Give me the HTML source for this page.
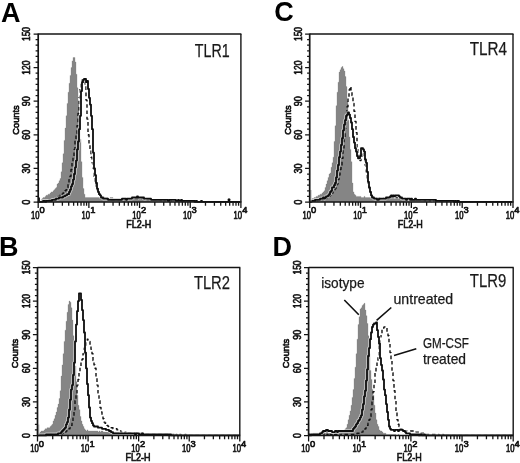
<!DOCTYPE html>
<html lang="en">
<head>
<meta charset="utf-8">
<title>TLR expression histograms</title>
<style>
html,body{margin:0;padding:0;background:#fff;}
body{width:520px;height:463px;overflow:hidden;}
svg{display:block;filter:grayscale(1) blur(0.3px);}
text{font-family:"Liberation Sans", Arial, Helvetica, sans-serif;fill:#111;}
.ax{font-size:10.4px;stroke:#111;stroke-width:0.65px;stroke-linejoin:round;}
.xl{font-size:10.3px;}
.sp{font-size:9.4px;}
.cn{font-size:9.4px;}
.ttl{font-size:18.6px;fill:#1a1a1a;stroke:#1a1a1a;stroke-width:0.25px;}
.ann{font-size:14.2px;fill:#1a1a1a;stroke:#1a1a1a;stroke-width:0.25px;}
.ltr{font-size:27px;font-weight:bold;fill:#000;}
</style>
</head>
<body>
<svg width="520" height="463" viewBox="0 0 520 463">
<rect width="520" height="463" fill="#fff"/>
<g id="panel-A">
<path d="M38.0 201.9H39.0V200.9H40.0V200.9H41.0V199.8H42.0V198.6H43.0V197.5H44.0V197.5H45.0V196.4H46.0V195.3H47.0V195.3H48.0V194.2H49.0V194.2H50.0V193.0H51.0V191.9H52.0V191.9H53.0V190.8H54.0V189.7H55.0V188.6H56.0V187.4H57.0V184.1H58.0V183.0H59.0V180.7H60.0V178.5H61.0V171.8H62.0V162.8H63.0V153.8H64.0V140.4H65.0V128.1H66.0V115.8H67.0V103.4H68.0V92.2H69.0V83.3H70.0V75.4H71.0V67.6H72.0V60.9H73.0V57.5H74.0V57.5H75.0V62.0H76.0V74.3H77.0V87.8H78.0V104.6H79.0V120.2H80.0V139.3H81.0V161.7H82.0V177.4H83.0V188.6H84.0V194.2H85.0V197.5H86.0V197.5H87.0V197.5H88.0V197.5H89.0V197.5H90.0V197.5H91.0V197.5H92.0V197.5H93.0V197.5H94.0V197.5H95.0V197.5H96.0V197.5H97.0V197.5H98.0V197.5H99.0V197.5H100.0V197.5H101.0V197.5H102.0V197.5H103.0V197.5H104.0V198.6H105.0V197.5H106.0V197.5H107.0V197.5H108.0V198.6H109.0V198.6H110.0V197.5H111.0V197.5H112.0V197.5H113.0V198.6H114.0V198.6H115.0V198.6H116.0V198.6H117.0V198.6H118.0V198.6H119.0V198.6H120.0V198.6H121.0V198.6H122.0V198.6H123.0V198.6H124.0V198.6H125.0V198.6H126.0V198.6H127.0V198.6H128.0V198.6H129.0V198.6H130.0V198.6H131.0V198.6H132.0V198.6H133.0V198.6H134.0V198.6H135.0V198.6H136.0V198.6H137.0V198.6H138.0V199.8H139.0V198.6H140.0V198.6H141.0V198.6H142.0V199.8H143.0V198.6H144.0V198.6H145.0V199.8H146.0V199.8H147.0V199.8H148.0V199.8H149.0V199.8H150.0V199.8H151.0V199.8H152.0V199.8H153.0V199.8H154.0V199.8H155.0V199.8H156.0V199.8H157.0V199.8H158.0V199.8H159.0V199.8H160.0V199.8H161.0V200.9H162.0V200.9H163.0V200.9H164.0V200.9H165.0V200.9H166.0V200.9H167.0V200.9H168.0V200.9H169.0V200.9H170.0V200.9H171.0V200.9H172.0V200.9H173.0V200.9H174.0V201.9H175.0V202.0H38.1Z" fill="#858585" stroke="#858585" stroke-width="0.3"/>
<path d="M38.0 201.9H39.0V201.9H40.0V201.9H41.0V201.9H42.0V200.9H43.0V200.9H44.0V200.9H45.0V200.9H46.0V200.9H47.0V200.9H48.0V200.9H49.0V199.8H50.0V199.8H51.0V199.8H52.0V198.6H53.0V198.6H54.0V198.6H55.0V198.6H56.0V197.5H57.0V197.5H58.0V196.4H59.0V196.4H60.0V195.3H61.0V195.3H62.0V194.2H63.0V193.0H64.0V191.9H65.0V190.8H66.0V189.7H67.0V187.4H68.0V184.1H69.0V179.6H70.0V176.2H71.0V169.5H72.0V162.8H73.0V157.2H74.0V149.4H75.0V140.4H76.0V133.7H77.0V125.8H78.0V113.5H79.0V97.8H80.0V88.9H81.0V83.3H82.0V79.9H83.0V79.9H84.0V82.2H85.0V86.6H86.0V100.1H87.0V119.1H88.0V134.8H89.0V144.9H90.0V149.4H91.0V157.2H92.0V162.8H93.0V168.4H94.0V176.2H95.0V181.8H96.0V186.3H97.0V189.7H98.0V193.0H99.0V194.2H100.0V195.3H101.0V197.5H102.0V197.5H103.0V197.5H104.0V198.6H105.0V198.6H106.0V198.6H107.0V199.8H108.0V199.8H109.0V199.8H110.0V199.8H111.0V199.8H112.0V199.8H113.0V199.8H114.0V199.8H115.0V199.8H116.0V199.8H117.0V199.8H118.0V199.8H119.0V199.8H120.0V199.8H121.0V199.8H122.0V199.8H123.0V199.8H124.0V199.8H125.0V199.8H126.0V199.8H127.0V199.8H128.0V198.6H129.0V198.6H130.0V198.6H131.0V198.6H132.0V198.6H133.0V198.6H134.0V198.6H135.0V198.6H136.0V198.6H137.0V198.6H138.0V198.6H139.0V198.6H140.0V198.6H141.0V198.6H142.0V198.6H143.0V198.6H144.0V199.8H145.0V199.8H146.0V199.8H147.0V199.8H148.0V199.8H149.0V199.8H150.0V199.8H151.0V199.8H152.0V199.8H153.0V199.8H154.0V199.8H155.0V199.8H156.0V199.8H157.0V199.8H158.0V199.8H159.0V199.8H160.0V199.8H161.0V200.9H162.0V199.8H163.0V199.8H164.0V199.8H165.0V200.9H166.0V200.9H167.0V200.9H168.0V200.9H169.0V200.9H170.0V200.9H171.0V200.9H172.0V200.9H173.0V200.9H174.0V200.9H175.0V200.9H176.0V200.9H177.0V200.9H178.0V200.9H179.0V200.9H180.0V200.9H181.0V200.9H182.0V200.9H183.0V200.9H184.0V200.9H185.0V200.9H186.0V200.9H187.0V200.9H188.0V200.9H189.0V200.9H190.0V201.9H191.0V201.9H192.0V200.9H193.0V200.9H194.0V201.9H195.0V201.9H196.0V201.9H197.0V201.9H198.0V201.9H199.0V201.9H200.0V201.9H201.0V201.9H202.0V201.9H203.0V201.9H204.0V201.9H205.0V201.9H206.0V201.9H207.0V201.9H208.0V201.9H209.0V201.9H210.0V201.9H211.0V201.9H212.0V201.9H213.0V201.9H214.0V201.9H215.0V201.9H216.0V201.9H217.0V201.9H218.0V201.9H219.0V201.9H220.0V201.9H221.0V201.9H222.0V201.9H223.0V201.9H224.0V201.9H225.0V201.9H226.0V201.9H227.0V201.9H228.0V201.9H229.0V201.9H230.0V201.9H231.0V201.9H232.0V201.9H233.0V201.9H234.0V201.9H235.0V201.9H236.0V201.9H237.0V201.9H238.0V201.9H239.0V201.9H240.0" fill="none" stroke="#111" stroke-width="1.4" stroke-dasharray="3.6 2.7" stroke-linejoin="round"/>
<path d="M38.0 201.9H39.0V201.9H40.0V201.9H41.0V201.9H42.0V201.9H43.0V200.9H44.0V200.9H45.0V201.9H46.0V200.9H47.0V200.9H48.0V200.9H49.0V200.9H50.0V200.9H51.0V200.9H52.0V199.8H53.0V199.8H54.0V199.8H55.0V199.8H56.0V198.6H57.0V198.6H58.0V198.6H59.0V197.5H60.0V197.5H61.0V197.5H62.0V197.5H63.0V196.4H64.0V196.4H65.0V195.3H66.0V195.3H67.0V194.2H68.0V194.2H69.0V191.9H70.0V189.7H71.0V186.3H72.0V184.1H73.0V179.6H74.0V174.0H75.0V167.3H76.0V160.6H77.0V149.4H78.0V141.5H79.0V129.2H80.0V115.8H81.0V91.1H82.0V82.2H83.0V79.9H84.0V78.8H85.0V78.8H86.0V82.2H87.0V81.0H88.0V88.9H89.0V97.8H90.0V104.6H91.0V115.8H92.0V129.2H93.0V152.7H94.0V168.4H95.0V175.1H96.0V183.0H97.0V188.6H98.0V191.9H99.0V194.2H100.0V195.3H101.0V197.5H102.0V197.5H103.0V198.6H104.0V198.6H105.0V198.6H106.0V198.6H107.0V198.6H108.0V199.8H109.0V199.8H110.0V199.8H111.0V199.8H112.0V199.8H113.0V199.8H114.0V199.8H115.0V199.8H116.0V199.8H117.0V199.8H118.0V199.8H119.0V199.8H120.0V199.8H121.0V199.8H122.0V198.6H123.0V198.6H124.0V198.6H125.0V198.6H126.0V199.8H127.0V198.6H128.0V198.6H129.0V198.6H130.0V198.6H131.0V198.6H132.0V197.5H133.0V197.5H134.0V197.5H135.0V197.5H136.0V197.5H137.0V196.4H138.0V197.5H139.0V197.5H140.0V197.5H141.0V197.5H142.0V197.5H143.0V197.5H144.0V198.6H145.0V198.6H146.0V198.6H147.0V198.6H148.0V198.6H149.0V198.6H150.0V198.6H151.0V199.8H152.0V199.8H153.0V199.8H154.0V199.8H155.0V199.8H156.0V199.8H157.0V199.8H158.0V199.8H159.0V199.8H160.0V199.8H161.0V199.8H162.0V199.8H163.0V199.8H164.0V199.8H165.0V199.8H166.0V199.8H167.0V199.8H168.0V200.9H169.0V199.8H170.0V199.8H171.0V199.8H172.0V199.8H173.0V199.8H174.0V199.8H175.0V199.8H176.0V200.9H177.0V200.9H178.0V199.8H179.0V200.9H180.0V200.9H181.0V199.8H182.0V200.9H183.0V200.9H184.0V200.9H185.0V200.9H186.0V200.9H187.0V200.9H188.0V200.9H189.0V200.9H190.0V200.9H191.0V200.9H192.0V200.9H193.0V200.9H194.0V200.9H195.0V201.9H196.0V200.9H197.0V201.9H198.0V201.9H199.0V201.9H200.0V201.9H201.0V200.9H202.0V201.9H203.0V201.9H204.0V201.9H205.0V201.9H206.0V201.9H207.0V201.9H208.0V201.9H209.0V201.9H210.0V201.9H211.0V201.9H212.0V201.9H213.0V201.9H214.0V201.9H215.0V201.9H216.0V201.9H217.0V201.9H218.0V201.9H219.0V201.9H220.0V201.9H221.0V201.9H222.0V201.9H223.0V201.9H224.0V201.9H225.0V201.9H226.0V201.9H227.0V201.9H228.0V201.9H229.0V201.9H230.0V201.9H231.0V201.9H232.0V201.9H233.0V201.9H234.0V201.9H235.0V201.9H236.0V201.9H237.0V201.9H238.0V201.9H239.0V201.9H240.0" fill="none" stroke="#fff" stroke-opacity="0.55" stroke-width="3.6" stroke-linejoin="round"/>
<path d="M38.0 201.9H39.0V201.9H40.0V201.9H41.0V201.9H42.0V201.9H43.0V200.9H44.0V200.9H45.0V201.9H46.0V200.9H47.0V200.9H48.0V200.9H49.0V200.9H50.0V200.9H51.0V200.9H52.0V199.8H53.0V199.8H54.0V199.8H55.0V199.8H56.0V198.6H57.0V198.6H58.0V198.6H59.0V197.5H60.0V197.5H61.0V197.5H62.0V197.5H63.0V196.4H64.0V196.4H65.0V195.3H66.0V195.3H67.0V194.2H68.0V194.2H69.0V191.9H70.0V189.7H71.0V186.3H72.0V184.1H73.0V179.6H74.0V174.0H75.0V167.3H76.0V160.6H77.0V149.4H78.0V141.5H79.0V129.2H80.0V115.8H81.0V91.1H82.0V82.2H83.0V79.9H84.0V78.8H85.0V78.8H86.0V82.2H87.0V81.0H88.0V88.9H89.0V97.8H90.0V104.6H91.0V115.8H92.0V129.2H93.0V152.7H94.0V168.4H95.0V175.1H96.0V183.0H97.0V188.6H98.0V191.9H99.0V194.2H100.0V195.3H101.0V197.5H102.0V197.5H103.0V198.6H104.0V198.6H105.0V198.6H106.0V198.6H107.0V198.6H108.0V199.8H109.0V199.8H110.0V199.8H111.0V199.8H112.0V199.8H113.0V199.8H114.0V199.8H115.0V199.8H116.0V199.8H117.0V199.8H118.0V199.8H119.0V199.8H120.0V199.8H121.0V199.8H122.0V198.6H123.0V198.6H124.0V198.6H125.0V198.6H126.0V199.8H127.0V198.6H128.0V198.6H129.0V198.6H130.0V198.6H131.0V198.6H132.0V197.5H133.0V197.5H134.0V197.5H135.0V197.5H136.0V197.5H137.0V196.4H138.0V197.5H139.0V197.5H140.0V197.5H141.0V197.5H142.0V197.5H143.0V197.5H144.0V198.6H145.0V198.6H146.0V198.6H147.0V198.6H148.0V198.6H149.0V198.6H150.0V198.6H151.0V199.8H152.0V199.8H153.0V199.8H154.0V199.8H155.0V199.8H156.0V199.8H157.0V199.8H158.0V199.8H159.0V199.8H160.0V199.8H161.0V199.8H162.0V199.8H163.0V199.8H164.0V199.8H165.0V199.8H166.0V199.8H167.0V199.8H168.0V200.9H169.0V199.8H170.0V199.8H171.0V199.8H172.0V199.8H173.0V199.8H174.0V199.8H175.0V199.8H176.0V200.9H177.0V200.9H178.0V199.8H179.0V200.9H180.0V200.9H181.0V199.8H182.0V200.9H183.0V200.9H184.0V200.9H185.0V200.9H186.0V200.9H187.0V200.9H188.0V200.9H189.0V200.9H190.0V200.9H191.0V200.9H192.0V200.9H193.0V200.9H194.0V200.9H195.0V201.9H196.0V200.9H197.0V201.9H198.0V201.9H199.0V201.9H200.0V201.9H201.0V200.9H202.0V201.9H203.0V201.9H204.0V201.9H205.0V201.9H206.0V201.9H207.0V201.9H208.0V201.9H209.0V201.9H210.0V201.9H211.0V201.9H212.0V201.9H213.0V201.9H214.0V201.9H215.0V201.9H216.0V201.9H217.0V201.9H218.0V201.9H219.0V201.9H220.0V201.9H221.0V201.9H222.0V201.9H223.0V201.9H224.0V201.9H225.0V201.9H226.0V201.9H227.0V201.9H228.0V201.9H229.0V201.9H230.0V201.9H231.0V201.9H232.0V201.9H233.0V201.9H234.0V201.9H235.0V201.9H236.0V201.9H237.0V201.9H238.0V201.9H239.0V201.9H240.0" fill="none" stroke="#0d0d0d" stroke-width="1.8" stroke-linejoin="round"/>
<rect x="38.9" y="197.5" width="1.1" height="4.5" fill="#222"/>
<circle cx="229.0" cy="199.8" r="1.5" fill="#0d0d0d"/>
<path d="M38.2 34.0H241.4" fill="none" stroke="#141414" stroke-width="1.7"/>
<path d="M240.9 34.0V202.0" fill="none" stroke="#141414" stroke-width="1.4"/>
<path d="M38.2 33.5V202.6" fill="none" stroke="#141414" stroke-width="1.7"/>
<path d="M37.7 202.0H241.4" fill="none" stroke="#141414" stroke-width="1.6"/>
<path d="M38.2 202.00h-4.6M38.2 196.40h-2.6M38.2 190.80h-2.6M38.2 185.20h-2.6M38.2 179.60h-2.6M38.2 174.00h-2.6M38.2 168.40h-4.6M38.2 162.80h-2.6M38.2 157.20h-2.6M38.2 151.60h-2.6M38.2 146.00h-2.6M38.2 140.40h-2.6M38.2 134.80h-4.6M38.2 129.20h-2.6M38.2 123.60h-2.6M38.2 118.00h-2.6M38.2 112.40h-2.6M38.2 106.80h-2.6M38.2 101.20h-4.6M38.2 95.60h-2.6M38.2 90.00h-2.6M38.2 84.40h-2.6M38.2 78.80h-2.6M38.2 73.20h-2.6M38.2 67.60h-4.6M38.2 62.00h-2.6M38.2 56.40h-2.6M38.2 50.80h-2.6M38.2 45.20h-2.6M38.2 39.60h-2.6M38.2 34.00h-4.6" fill="none" stroke="#141414" stroke-width="1.25"/>
<path d="M38.20 202.0v5.9M53.45 202.0v3.7M62.38 202.0v3.7M68.71 202.0v3.7M73.62 202.0v3.7M77.63 202.0v3.7M81.03 202.0v3.7M83.96 202.0v3.7M86.56 202.0v3.7M88.88 202.0v5.9M104.13 202.0v3.7M113.05 202.0v3.7M119.38 202.0v3.7M124.30 202.0v3.7M128.31 202.0v3.7M131.70 202.0v3.7M134.64 202.0v3.7M137.23 202.0v3.7M139.55 202.0v5.9M154.80 202.0v3.7M163.73 202.0v3.7M170.06 202.0v3.7M174.97 202.0v3.7M178.98 202.0v3.7M182.38 202.0v3.7M185.31 202.0v3.7M187.91 202.0v3.7M190.22 202.0v5.9M205.48 202.0v3.7M214.40 202.0v3.7M220.73 202.0v3.7M225.65 202.0v3.7M229.66 202.0v3.7M233.05 202.0v3.7M235.99 202.0v3.7M238.58 202.0v3.7M240.90 202.0v5.9" fill="none" stroke="#141414" stroke-width="1.3"/>
<text class="ax" transform="translate(30.2 34.0) rotate(-90)" text-anchor="middle" textLength="14.2" lengthAdjust="spacingAndGlyphs">150</text>
<text class="ax" transform="translate(30.2 67.6) rotate(-90)" text-anchor="middle" textLength="14.2" lengthAdjust="spacingAndGlyphs">120</text>
<text class="ax" transform="translate(30.2 101.2) rotate(-90)" text-anchor="middle" textLength="10.0" lengthAdjust="spacingAndGlyphs">90</text>
<text class="ax" transform="translate(30.2 134.8) rotate(-90)" text-anchor="middle" textLength="10.0" lengthAdjust="spacingAndGlyphs">60</text>
<text class="ax" transform="translate(30.2 168.4) rotate(-90)" text-anchor="middle" textLength="10.0" lengthAdjust="spacingAndGlyphs">30</text>
<text class="ax" transform="translate(30.2 202.0) rotate(-90)" text-anchor="middle" textLength="4.8" lengthAdjust="spacingAndGlyphs">0</text>
<text class="ax cn" transform="translate(19.0 120.0) rotate(-90)" text-anchor="middle" textLength="29.5" lengthAdjust="spacingAndGlyphs">Counts</text>
<text class="ax xl" x="30.9" y="218.8" textLength="8.5" lengthAdjust="spacingAndGlyphs">10</text>
<text class="ax sp" x="39.5" y="213.0">0</text>
<text class="ax xl" x="81.6" y="218.8" textLength="8.5" lengthAdjust="spacingAndGlyphs">10</text>
<text class="ax sp" x="90.2" y="213.0">1</text>
<text class="ax xl" x="132.2" y="218.8" textLength="8.5" lengthAdjust="spacingAndGlyphs">10</text>
<text class="ax sp" x="140.9" y="213.0">2</text>
<text class="ax xl" x="182.9" y="218.8" textLength="8.5" lengthAdjust="spacingAndGlyphs">10</text>
<text class="ax sp" x="191.5" y="213.0">3</text>
<text class="ax xl" x="233.6" y="218.8" textLength="8.5" lengthAdjust="spacingAndGlyphs">10</text>
<text class="ax sp" x="242.2" y="213.0">4</text>
<text class="ax xl" x="138.8" y="227.7" text-anchor="middle" textLength="25.0" lengthAdjust="spacingAndGlyphs">FL2-H</text>
<text class="ttl" x="194.8" y="56.6" textLength="34.8" lengthAdjust="spacingAndGlyphs">TLR1</text>
<text class="ltr" x="1.0" y="21.5">A</text>
</g>
<g id="panel-B">
<path d="M37.0 435.4H38.0V434.4H39.0V433.3H40.0V432.1H41.0V431.0H42.0V431.0H43.0V431.0H44.0V429.9H45.0V428.8H46.0V428.8H47.0V427.7H48.0V427.7H49.0V427.7H50.0V426.5H51.0V425.4H52.0V424.3H53.0V420.9H54.0V418.7H55.0V415.3H56.0V412.0H57.0V407.5H58.0V404.1H59.0V398.5H60.0V390.7H61.0V376.1H62.0V364.9H63.0V353.7H64.0V341.4H65.0V330.2H66.0V321.3H67.0V312.3H68.0V304.5H69.0V301.1H70.0V302.2H71.0V307.8H72.0V320.1H73.0V335.8H74.0V349.3H75.0V366.1H76.0V381.7H77.0V395.2H78.0V405.3H79.0V409.7H80.0V416.5H81.0V420.9H82.0V424.3H83.0V426.5H84.0V428.8H85.0V429.9H86.0V431.0H87.0V429.9H88.0V431.0H89.0V431.0H90.0V431.0H91.0V431.0H92.0V431.0H93.0V431.0H94.0V431.0H95.0V431.0H96.0V431.0H97.0V431.0H98.0V432.1H99.0V431.0H100.0V432.1H101.0V431.0H102.0V431.0H103.0V432.1H104.0V432.1H105.0V432.1H106.0V432.1H107.0V432.1H108.0V432.1H109.0V432.1H110.0V432.1H111.0V432.1H112.0V432.1H113.0V432.1H114.0V432.1H115.0V432.1H116.0V432.1H117.0V432.1H118.0V432.1H119.0V433.3H120.0V433.3H121.0V433.3H122.0V433.3H123.0V433.3H124.0V433.3H125.0V433.3H126.0V433.3H127.0V433.3H128.0V433.3H129.0V433.3H130.0V433.3H131.0V433.3H132.0V433.3H133.0V433.3H134.0V433.3H135.0V433.3H136.0V433.3H137.0V434.4H138.0V434.4H139.0V433.3H140.0V434.4H141.0V434.4H142.0V434.4H143.0V434.4H144.0V434.4H145.0V434.4H146.0V434.4H147.0V434.4H148.0V434.4H149.0V434.4H150.0V434.4H151.0V434.4H152.0V434.4H153.0V434.4H154.0V434.4H155.0V434.4H156.0V434.4H157.0V434.4H158.0V434.4H159.0V435.4H160.0V434.4H161.0V435.4H162.0V435.5H37.1Z" fill="#858585" stroke="#858585" stroke-width="0.3"/>
<path d="M37.0 435.4H38.0V435.4H39.0V435.4H40.0V435.4H41.0V435.4H42.0V435.4H43.0V435.4H44.0V435.4H45.0V435.4H46.0V435.4H47.0V435.4H48.0V435.4H49.0V435.4H50.0V434.4H51.0V434.4H52.0V434.4H53.0V434.4H54.0V434.4H55.0V434.4H56.0V434.4H57.0V434.4H58.0V434.4H59.0V434.4H60.0V434.4H61.0V434.4H62.0V433.3H63.0V433.3H64.0V433.3H65.0V432.1H66.0V431.0H67.0V429.9H68.0V429.9H69.0V428.8H70.0V427.7H71.0V425.4H72.0V422.1H73.0V416.5H74.0V409.7H75.0V400.8H76.0V392.9H77.0V385.1H78.0V379.5H79.0V372.8H80.0V367.2H81.0V361.6H82.0V359.3H83.0V353.7H84.0V348.1H85.0V345.9H86.0V341.4H87.0V339.2H88.0V340.3H89.0V341.4H90.0V344.8H91.0V349.3H92.0V353.7H93.0V360.5H94.0V364.9H95.0V368.3H96.0V376.1H97.0V385.1H98.0V392.9H99.0V400.8H100.0V407.5H101.0V412.0H102.0V415.3H103.0V418.7H104.0V422.1H105.0V423.2H106.0V424.3H107.0V425.4H108.0V426.5H109.0V427.7H110.0V427.7H111.0V427.7H112.0V427.7H113.0V428.8H114.0V428.8H115.0V428.8H116.0V428.8H117.0V429.9H118.0V429.9H119.0V431.0H120.0V431.0H121.0V432.1H122.0V432.1H123.0V432.1H124.0V433.3H125.0V432.1H126.0V433.3H127.0V433.3H128.0V433.3H129.0V433.3H130.0V433.3H131.0V433.3H132.0V433.3H133.0V433.3H134.0V433.3H135.0V433.3H136.0V433.3H137.0V433.3H138.0V433.3H139.0V433.3H140.0V433.3H141.0V433.3H142.0V433.3H143.0V434.4H144.0V434.4H145.0V434.4H146.0V434.4H147.0V434.4H148.0V434.4H149.0V434.4H150.0V434.4H151.0V434.4H152.0V434.4H153.0V434.4H154.0V434.4H155.0V434.4H156.0V434.4H157.0V434.4H158.0V434.4H159.0V434.4H160.0V434.4H161.0V434.4H162.0V434.4H163.0V434.4H164.0V434.4H165.0V434.4H166.0V434.4H167.0V434.4H168.0V434.4H169.0V434.4H170.0V434.4H171.0V434.4H172.0V434.4H173.0V434.4H174.0V434.4H175.0V435.4H176.0V434.4H177.0V435.4H178.0V434.4H179.0V434.4H180.0V434.4H181.0V435.4H182.0V435.4H183.0V435.4H184.0V435.4H185.0V434.4H186.0V435.4H187.0V435.4H188.0V435.4H189.0V435.4H190.0V435.4H191.0V435.4H192.0V435.4H193.0V435.4H194.0V435.4H195.0V435.4H196.0V435.4H197.0V435.4H198.0V435.4H199.0V435.4H200.0V435.4H201.0V435.4H202.0V435.4H203.0V435.4H204.0V435.4H205.0V435.4H206.0V435.4H207.0V435.4H208.0V435.4H209.0V435.4H210.0V435.4H211.0V435.4H212.0V435.4H213.0V435.4H214.0V435.4H215.0V435.4H216.0V435.4H217.0V435.4H218.0V435.4H219.0V435.4H220.0V435.4H221.0V435.4H222.0V435.4H223.0V435.4H224.0V435.4H225.0V435.4H226.0V435.4H227.0V435.4H228.0V435.4H229.0V435.4H230.0V435.4H231.0V435.4H232.0V435.4H233.0V435.4H234.0V435.4H235.0V435.4H236.0V435.4H237.0V435.4H238.0V435.4H239.0V435.4H240.0" fill="none" stroke="#111" stroke-width="1.4" stroke-dasharray="3.6 2.7" stroke-linejoin="round"/>
<path d="M37.0 435.4H38.0V435.4H39.0V435.4H40.0V435.4H41.0V435.4H42.0V435.4H43.0V435.4H44.0V435.4H45.0V435.4H46.0V434.4H47.0V434.4H48.0V434.4H49.0V434.4H50.0V434.4H51.0V434.4H52.0V434.4H53.0V434.4H54.0V434.4H55.0V434.4H56.0V434.4H57.0V434.4H58.0V433.3H59.0V433.3H60.0V433.3H61.0V432.1H62.0V431.0H63.0V429.9H64.0V428.8H65.0V427.7H66.0V424.3H67.0V422.1H68.0V417.6H69.0V409.7H70.0V399.7H71.0V389.6H72.0V385.1H73.0V375.0H74.0V362.7H75.0V341.4H76.0V324.6H77.0V311.2H78.0V301.1H79.0V293.3H80.0V293.3H81.0V300.0H82.0V310.1H83.0V320.1H84.0V332.5H85.0V352.6H86.0V368.3H87.0V384.0H88.0V395.2H89.0V407.5H90.0V417.6H91.0V420.9H92.0V423.2H93.0V425.4H94.0V426.5H95.0V426.5H96.0V426.5H97.0V426.5H98.0V427.7H99.0V427.7H100.0V427.7H101.0V427.7H102.0V428.8H103.0V428.8H104.0V428.8H105.0V428.8H106.0V429.9H107.0V429.9H108.0V429.9H109.0V431.0H110.0V431.0H111.0V432.1H112.0V432.1H113.0V433.3H114.0V433.3H115.0V433.3H116.0V433.3H117.0V433.3H118.0V433.3H119.0V433.3H120.0V433.3H121.0V433.3H122.0V433.3H123.0V433.3H124.0V433.3H125.0V433.3H126.0V433.3H127.0V433.3H128.0V433.3H129.0V433.3H130.0V433.3H131.0V433.3H132.0V433.3H133.0V433.3H134.0V433.3H135.0V434.4H136.0V433.3H137.0V433.3H138.0V433.3H139.0V434.4H140.0V434.4H141.0V434.4H142.0V433.3H143.0V434.4H144.0V434.4H145.0V434.4H146.0V434.4H147.0V434.4H148.0V434.4H149.0V434.4H150.0V434.4H151.0V434.4H152.0V434.4H153.0V434.4H154.0V434.4H155.0V434.4H156.0V434.4H157.0V434.4H158.0V434.4H159.0V434.4H160.0V434.4H161.0V434.4H162.0V434.4H163.0V434.4H164.0V434.4H165.0V434.4H166.0V434.4H167.0V434.4H168.0V434.4H169.0V434.4H170.0V434.4H171.0V435.4H172.0V435.4H173.0V435.4H174.0V435.4H175.0V435.4H176.0V435.4H177.0V435.4H178.0V435.4H179.0V435.4H180.0V435.4H181.0V435.4H182.0V435.4H183.0V435.4H184.0V435.4H185.0V435.4H186.0V435.4H187.0V435.4H188.0V435.4H189.0V435.4H190.0V435.4H191.0V435.4H192.0V435.4H193.0V435.4H194.0V435.4H195.0V435.4H196.0V435.4H197.0V435.4H198.0V435.4H199.0V435.4H200.0V435.4H201.0V435.4H202.0V435.4H203.0V435.4H204.0V435.4H205.0V435.4H206.0V435.4H207.0V435.4H208.0V435.4H209.0V435.4H210.0V435.4H211.0V435.4H212.0V435.4H213.0V435.4H214.0V435.4H215.0V435.4H216.0V435.4H217.0V435.4H218.0V435.4H219.0V435.4H220.0V435.4H221.0V435.4H222.0V435.4H223.0V435.4H224.0V435.4H225.0V435.4H226.0V435.4H227.0V435.4H228.0V435.4H229.0V435.4H230.0V435.4H231.0V435.4H232.0V435.4H233.0V435.4H234.0V435.4H235.0V435.4H236.0V435.4H237.0V435.4H238.0V435.4H239.0V435.4H240.0" fill="none" stroke="#fff" stroke-opacity="0.55" stroke-width="3.6" stroke-linejoin="round"/>
<path d="M37.0 435.4H38.0V435.4H39.0V435.4H40.0V435.4H41.0V435.4H42.0V435.4H43.0V435.4H44.0V435.4H45.0V435.4H46.0V434.4H47.0V434.4H48.0V434.4H49.0V434.4H50.0V434.4H51.0V434.4H52.0V434.4H53.0V434.4H54.0V434.4H55.0V434.4H56.0V434.4H57.0V434.4H58.0V433.3H59.0V433.3H60.0V433.3H61.0V432.1H62.0V431.0H63.0V429.9H64.0V428.8H65.0V427.7H66.0V424.3H67.0V422.1H68.0V417.6H69.0V409.7H70.0V399.7H71.0V389.6H72.0V385.1H73.0V375.0H74.0V362.7H75.0V341.4H76.0V324.6H77.0V311.2H78.0V301.1H79.0V293.3H80.0V293.3H81.0V300.0H82.0V310.1H83.0V320.1H84.0V332.5H85.0V352.6H86.0V368.3H87.0V384.0H88.0V395.2H89.0V407.5H90.0V417.6H91.0V420.9H92.0V423.2H93.0V425.4H94.0V426.5H95.0V426.5H96.0V426.5H97.0V426.5H98.0V427.7H99.0V427.7H100.0V427.7H101.0V427.7H102.0V428.8H103.0V428.8H104.0V428.8H105.0V428.8H106.0V429.9H107.0V429.9H108.0V429.9H109.0V431.0H110.0V431.0H111.0V432.1H112.0V432.1H113.0V433.3H114.0V433.3H115.0V433.3H116.0V433.3H117.0V433.3H118.0V433.3H119.0V433.3H120.0V433.3H121.0V433.3H122.0V433.3H123.0V433.3H124.0V433.3H125.0V433.3H126.0V433.3H127.0V433.3H128.0V433.3H129.0V433.3H130.0V433.3H131.0V433.3H132.0V433.3H133.0V433.3H134.0V433.3H135.0V434.4H136.0V433.3H137.0V433.3H138.0V433.3H139.0V434.4H140.0V434.4H141.0V434.4H142.0V433.3H143.0V434.4H144.0V434.4H145.0V434.4H146.0V434.4H147.0V434.4H148.0V434.4H149.0V434.4H150.0V434.4H151.0V434.4H152.0V434.4H153.0V434.4H154.0V434.4H155.0V434.4H156.0V434.4H157.0V434.4H158.0V434.4H159.0V434.4H160.0V434.4H161.0V434.4H162.0V434.4H163.0V434.4H164.0V434.4H165.0V434.4H166.0V434.4H167.0V434.4H168.0V434.4H169.0V434.4H170.0V434.4H171.0V435.4H172.0V435.4H173.0V435.4H174.0V435.4H175.0V435.4H176.0V435.4H177.0V435.4H178.0V435.4H179.0V435.4H180.0V435.4H181.0V435.4H182.0V435.4H183.0V435.4H184.0V435.4H185.0V435.4H186.0V435.4H187.0V435.4H188.0V435.4H189.0V435.4H190.0V435.4H191.0V435.4H192.0V435.4H193.0V435.4H194.0V435.4H195.0V435.4H196.0V435.4H197.0V435.4H198.0V435.4H199.0V435.4H200.0V435.4H201.0V435.4H202.0V435.4H203.0V435.4H204.0V435.4H205.0V435.4H206.0V435.4H207.0V435.4H208.0V435.4H209.0V435.4H210.0V435.4H211.0V435.4H212.0V435.4H213.0V435.4H214.0V435.4H215.0V435.4H216.0V435.4H217.0V435.4H218.0V435.4H219.0V435.4H220.0V435.4H221.0V435.4H222.0V435.4H223.0V435.4H224.0V435.4H225.0V435.4H226.0V435.4H227.0V435.4H228.0V435.4H229.0V435.4H230.0V435.4H231.0V435.4H232.0V435.4H233.0V435.4H234.0V435.4H235.0V435.4H236.0V435.4H237.0V435.4H238.0V435.4H239.0V435.4H240.0" fill="none" stroke="#0d0d0d" stroke-width="1.8" stroke-linejoin="round"/>
<rect x="38.2" y="424.5" width="1.1" height="11.0" fill="#b4b4b4"/>
<path d="M37.5 267.5H240.3" fill="none" stroke="#141414" stroke-width="1.7"/>
<path d="M239.8 267.5V435.5" fill="none" stroke="#141414" stroke-width="1.4"/>
<path d="M37.5 267.0V436.1" fill="none" stroke="#141414" stroke-width="1.7"/>
<path d="M37.0 435.5H240.3" fill="none" stroke="#141414" stroke-width="1.6"/>
<path d="M37.5 435.50h-4.6M37.5 429.90h-2.6M37.5 424.30h-2.6M37.5 418.70h-2.6M37.5 413.10h-2.6M37.5 407.50h-2.6M37.5 401.90h-4.6M37.5 396.30h-2.6M37.5 390.70h-2.6M37.5 385.10h-2.6M37.5 379.50h-2.6M37.5 373.90h-2.6M37.5 368.30h-4.6M37.5 362.70h-2.6M37.5 357.10h-2.6M37.5 351.50h-2.6M37.5 345.90h-2.6M37.5 340.30h-2.6M37.5 334.70h-4.6M37.5 329.10h-2.6M37.5 323.50h-2.6M37.5 317.90h-2.6M37.5 312.30h-2.6M37.5 306.70h-2.6M37.5 301.10h-4.6M37.5 295.50h-2.6M37.5 289.90h-2.6M37.5 284.30h-2.6M37.5 278.70h-2.6M37.5 273.10h-2.6M37.5 267.50h-4.6" fill="none" stroke="#141414" stroke-width="1.25"/>
<path d="M37.50 435.5v5.9M52.72 435.5v3.7M61.63 435.5v3.7M67.95 435.5v3.7M72.85 435.5v3.7M76.85 435.5v3.7M80.24 435.5v3.7M83.17 435.5v3.7M85.76 435.5v3.7M88.08 435.5v5.9M103.30 435.5v3.7M112.21 435.5v3.7M118.52 435.5v3.7M123.43 435.5v3.7M127.43 435.5v3.7M130.82 435.5v3.7M133.75 435.5v3.7M136.34 435.5v3.7M138.65 435.5v5.9M153.87 435.5v3.7M162.78 435.5v3.7M169.10 435.5v3.7M174.00 435.5v3.7M178.00 435.5v3.7M181.39 435.5v3.7M184.32 435.5v3.7M186.91 435.5v3.7M189.23 435.5v5.9M204.45 435.5v3.7M213.36 435.5v3.7M219.67 435.5v3.7M224.58 435.5v3.7M228.58 435.5v3.7M231.97 435.5v3.7M234.90 435.5v3.7M237.49 435.5v3.7M239.80 435.5v5.9" fill="none" stroke="#141414" stroke-width="1.3"/>
<text class="ax" transform="translate(29.5 267.5) rotate(-90)" text-anchor="middle" textLength="14.2" lengthAdjust="spacingAndGlyphs">150</text>
<text class="ax" transform="translate(29.5 301.1) rotate(-90)" text-anchor="middle" textLength="14.2" lengthAdjust="spacingAndGlyphs">120</text>
<text class="ax" transform="translate(29.5 334.7) rotate(-90)" text-anchor="middle" textLength="10.0" lengthAdjust="spacingAndGlyphs">90</text>
<text class="ax" transform="translate(29.5 368.3) rotate(-90)" text-anchor="middle" textLength="10.0" lengthAdjust="spacingAndGlyphs">60</text>
<text class="ax" transform="translate(29.5 401.9) rotate(-90)" text-anchor="middle" textLength="10.0" lengthAdjust="spacingAndGlyphs">30</text>
<text class="ax" transform="translate(29.5 435.5) rotate(-90)" text-anchor="middle" textLength="4.8" lengthAdjust="spacingAndGlyphs">0</text>
<text class="ax cn" transform="translate(18.3 353.5) rotate(-90)" text-anchor="middle" textLength="29.5" lengthAdjust="spacingAndGlyphs">Counts</text>
<text class="ax xl" x="30.2" y="452.3" textLength="8.5" lengthAdjust="spacingAndGlyphs">10</text>
<text class="ax sp" x="38.8" y="446.5">0</text>
<text class="ax xl" x="80.8" y="452.3" textLength="8.5" lengthAdjust="spacingAndGlyphs">10</text>
<text class="ax sp" x="89.4" y="446.5">1</text>
<text class="ax xl" x="131.3" y="452.3" textLength="8.5" lengthAdjust="spacingAndGlyphs">10</text>
<text class="ax sp" x="140.0" y="446.5">2</text>
<text class="ax xl" x="181.9" y="452.3" textLength="8.5" lengthAdjust="spacingAndGlyphs">10</text>
<text class="ax sp" x="190.5" y="446.5">3</text>
<text class="ax xl" x="232.5" y="452.3" textLength="8.5" lengthAdjust="spacingAndGlyphs">10</text>
<text class="ax sp" x="241.1" y="446.5">4</text>
<text class="ax xl" x="138.1" y="461.2" text-anchor="middle" textLength="25.0" lengthAdjust="spacingAndGlyphs">FL2-H</text>
<text class="ttl" x="193.9" y="288.8" textLength="36.1" lengthAdjust="spacingAndGlyphs">TLR2</text>
<text class="ltr" x="-1.0" y="256.0">B</text>
</g>
<g id="panel-C">
<path d="M309.2 201.9H310.2V200.9H311.0V199.8H312.0V198.6H313.0V198.6H314.0V197.5H315.0V197.5H316.0V196.4H317.0V196.4H318.0V195.3H319.0V195.3H320.0V194.2H321.0V194.2H322.0V193.0H323.0V191.9H324.0V190.8H325.0V187.4H326.0V184.1H327.0V180.7H328.0V177.4H329.0V174.0H330.0V172.9H331.0V167.3H332.0V162.8H333.0V157.2H334.0V141.5H335.0V125.8H336.0V105.7H337.0V92.2H338.0V82.2H339.0V72.1H340.0V69.8H341.0V67.6H342.0V66.5H343.0V68.7H344.0V71.0H345.0V76.6H346.0V86.6H347.0V101.2H348.0V120.2H349.0V137.0H350.0V149.4H351.0V161.7H352.0V183.0H353.0V191.9H354.0V194.2H355.0V195.3H356.0V196.4H357.0V196.4H358.0V196.4H359.0V196.4H360.0V196.4H361.0V197.5H362.0V197.5H363.0V197.5H364.0V196.4H365.0V197.5H366.0V197.5H367.0V197.5H368.0V197.5H369.0V197.5H370.0V197.5H371.0V197.5H372.0V197.5H373.0V197.5H374.0V197.5H375.0V197.5H376.0V197.5H377.0V197.5H378.0V197.5H379.0V197.5H380.0V198.6H381.0V198.6H382.0V198.6H383.0V197.5H384.0V198.6H385.0V198.6H386.0V198.6H387.0V198.6H388.0V198.6H389.0V198.6H390.0V198.6H391.0V198.6H392.0V198.6H393.0V198.6H394.0V198.6H395.0V198.6H396.0V198.6H397.0V198.6H398.0V198.6H399.0V198.6H400.0V199.8H401.0V199.8H402.0V199.8H403.0V199.8H404.0V199.8H405.0V199.8H406.0V199.8H407.0V199.8H408.0V199.8H409.0V199.8H410.0V199.8H411.0V199.8H412.0V199.8H413.0V199.8H414.0V199.8H415.0V200.9H416.0V199.8H417.0V200.9H418.0V200.9H419.0V200.9H420.0V200.9H421.0V200.9H422.0V200.9H423.0V200.9H424.0V200.9H425.0V200.9H426.0V200.9H427.0V200.9H428.0V200.9H429.0V200.9H430.0V200.9H431.0V201.9H432.0V202.0H309.3Z" fill="#858585" stroke="#858585" stroke-width="0.3"/>
<path d="M309.2 201.9H310.2V201.9H311.0V201.9H312.0V201.9H313.0V200.9H314.0V200.9H315.0V200.9H316.0V200.9H317.0V200.9H318.0V199.8H319.0V199.8H320.0V199.8H321.0V199.8H322.0V199.8H323.0V198.6H324.0V198.6H325.0V198.6H326.0V198.6H327.0V197.5H328.0V197.5H329.0V196.4H330.0V195.3H331.0V194.2H332.0V193.0H333.0V190.8H334.0V189.7H335.0V188.6H336.0V186.3H337.0V184.1H338.0V179.6H339.0V175.1H340.0V169.5H341.0V166.2H342.0V158.3H343.0V149.4H344.0V139.3H345.0V128.1H346.0V118.0H347.0V106.8H348.0V97.8H349.0V90.0H350.0V86.6H351.0V91.1H352.0V95.6H353.0V103.4H354.0V111.3H355.0V121.4H356.0V132.6H357.0V148.2H358.0V155.0H359.0V159.4H360.0V160.6H361.0V157.2H362.0V152.7H363.0V152.7H364.0V157.2H365.0V165.0H366.0V171.8H367.0V178.5H368.0V184.1H369.0V188.6H370.0V191.9H371.0V195.3H372.0V196.4H373.0V197.5H374.0V198.6H375.0V198.6H376.0V198.6H377.0V198.6H378.0V199.8H379.0V199.8H380.0V198.6H381.0V198.6H382.0V198.6H383.0V198.6H384.0V198.6H385.0V198.6H386.0V198.6H387.0V198.6H388.0V198.6H389.0V198.6H390.0V197.5H391.0V197.5H392.0V197.5H393.0V197.5H394.0V196.4H395.0V196.4H396.0V197.5H397.0V197.5H398.0V197.5H399.0V197.5H400.0V198.6H401.0V198.6H402.0V198.6H403.0V198.6H404.0V198.6H405.0V199.8H406.0V199.8H407.0V199.8H408.0V199.8H409.0V199.8H410.0V199.8H411.0V199.8H412.0V199.8H413.0V199.8H414.0V199.8H415.0V199.8H416.0V199.8H417.0V199.8H418.0V199.8H419.0V199.8H420.0V199.8H421.0V199.8H422.0V199.8H423.0V199.8H424.0V199.8H425.0V200.9H426.0V200.9H427.0V200.9H428.0V200.9H429.0V200.9H430.0V199.8H431.0V200.9H432.0V200.9H433.0V200.9H434.0V200.9H435.0V200.9H436.0V200.9H437.0V200.9H438.0V200.9H439.0V200.9H440.0V200.9H441.0V200.9H442.0V200.9H443.0V200.9H444.0V200.9H445.0V200.9H446.0V200.9H447.0V200.9H448.0V200.9H449.0V200.9H450.0V200.9H451.0V200.9H452.0V200.9H453.0V200.9H454.0V200.9H455.0V200.9H456.0V200.9H457.0V201.9H458.0V201.9H459.0V201.9H460.0V201.9H461.0V201.9H462.0V201.9H463.0V201.9H464.0V201.9H465.0V201.9H466.0V201.9H467.0V201.9H468.0V201.9H469.0V201.9H470.0V201.9H471.0V201.9H472.0V201.9H473.0V201.9H474.0V201.9H475.0V201.9H476.0V201.9H477.0V201.9H478.0V201.9H479.0V201.9H480.0V201.9H481.0V201.9H482.0V201.9H483.0V201.9H484.0V201.9H485.0V201.9H486.0V201.9H487.0V201.9H488.0V201.9H489.0V201.9H490.0V201.9H491.0V201.9H492.0V201.9H493.0V201.9H494.0V201.9H495.0V201.9H496.0V201.9H497.0V201.9H498.0V201.9H499.0V201.9H500.0V201.9H501.0V201.9H502.0V201.9H503.0V201.9H504.0V201.9H505.0V201.9H506.0V201.9H507.0V201.9H508.0V201.9H509.0V201.9H510.0V201.9H511.0V201.9H512.0" fill="none" stroke="#111" stroke-width="1.4" stroke-dasharray="3.6 2.7" stroke-linejoin="round"/>
<path d="M309.2 201.9H310.2V201.9H311.0V200.9H312.0V200.9H313.0V200.9H314.0V200.9H315.0V199.8H316.0V199.8H317.0V199.8H318.0V199.8H319.0V199.8H320.0V198.6H321.0V198.6H322.0V198.6H323.0V197.5H324.0V198.6H325.0V197.5H326.0V196.4H327.0V196.4H328.0V195.3H329.0V194.2H330.0V191.9H331.0V190.8H332.0V187.4H333.0V187.4H334.0V185.2H335.0V183.0H336.0V177.4H337.0V170.6H338.0V165.0H339.0V157.2H340.0V151.6H341.0V144.9H342.0V138.2H343.0V130.3H344.0V124.7H345.0V120.2H346.0V115.8H347.0V114.6H348.0V112.4H349.0V114.6H350.0V118.0H351.0V122.5H352.0V129.2H353.0V137.0H354.0V142.6H355.0V148.2H356.0V151.6H357.0V156.1H358.0V158.3H359.0V158.3H360.0V156.1H361.0V148.2H362.0V148.2H363.0V149.4H364.0V151.6H365.0V159.4H366.0V162.8H367.0V171.8H368.0V181.8H369.0V187.4H370.0V191.9H371.0V195.3H372.0V197.5H373.0V197.5H374.0V198.6H375.0V198.6H376.0V198.6H377.0V199.8H378.0V199.8H379.0V198.6H380.0V198.6H381.0V198.6H382.0V198.6H383.0V198.6H384.0V198.6H385.0V198.6H386.0V197.5H387.0V197.5H388.0V197.5H389.0V197.5H390.0V196.4H391.0V195.3H392.0V196.4H393.0V195.3H394.0V196.4H395.0V195.3H396.0V195.3H397.0V195.3H398.0V195.3H399.0V196.4H400.0V197.5H401.0V197.5H402.0V198.6H403.0V198.6H404.0V198.6H405.0V198.6H406.0V199.8H407.0V198.6H408.0V198.6H409.0V198.6H410.0V199.8H411.0V198.6H412.0V199.8H413.0V199.8H414.0V199.8H415.0V198.6H416.0V199.8H417.0V199.8H418.0V199.8H419.0V199.8H420.0V199.8H421.0V199.8H422.0V199.8H423.0V199.8H424.0V199.8H425.0V199.8H426.0V199.8H427.0V199.8H428.0V199.8H429.0V199.8H430.0V199.8H431.0V199.8H432.0V199.8H433.0V199.8H434.0V199.8H435.0V199.8H436.0V200.9H437.0V200.9H438.0V200.9H439.0V200.9H440.0V200.9H441.0V200.9H442.0V200.9H443.0V200.9H444.0V200.9H445.0V200.9H446.0V200.9H447.0V200.9H448.0V200.9H449.0V200.9H450.0V200.9H451.0V200.9H452.0V200.9H453.0V200.9H454.0V201.9H455.0V200.9H456.0V201.9H457.0V200.9H458.0V200.9H459.0V201.9H460.0V201.9H461.0V201.9H462.0V201.9H463.0V201.9H464.0V201.9H465.0V201.9H466.0V201.9H467.0V201.9H468.0V201.9H469.0V201.9H470.0V201.9H471.0V201.9H472.0V201.9H473.0V201.9H474.0V201.9H475.0V201.9H476.0V201.9H477.0V201.9H478.0V201.9H479.0V201.9H480.0V201.9H481.0V201.9H482.0V201.9H483.0V201.9H484.0V201.9H485.0V201.9H486.0V201.9H487.0V201.9H488.0V201.9H489.0V201.9H490.0V201.9H491.0V201.9H492.0V201.9H493.0V201.9H494.0V201.9H495.0V201.9H496.0V201.9H497.0V201.9H498.0V201.9H499.0V201.9H500.0V201.9H501.0V201.9H502.0V201.9H503.0V201.9H504.0V201.9H505.0V201.9H506.0V201.9H507.0V201.9H508.0V201.9H509.0V201.9H510.0V201.9H511.0V201.9H512.0" fill="none" stroke="#fff" stroke-opacity="0.55" stroke-width="3.6" stroke-linejoin="round"/>
<path d="M309.2 201.9H310.2V201.9H311.0V200.9H312.0V200.9H313.0V200.9H314.0V200.9H315.0V199.8H316.0V199.8H317.0V199.8H318.0V199.8H319.0V199.8H320.0V198.6H321.0V198.6H322.0V198.6H323.0V197.5H324.0V198.6H325.0V197.5H326.0V196.4H327.0V196.4H328.0V195.3H329.0V194.2H330.0V191.9H331.0V190.8H332.0V187.4H333.0V187.4H334.0V185.2H335.0V183.0H336.0V177.4H337.0V170.6H338.0V165.0H339.0V157.2H340.0V151.6H341.0V144.9H342.0V138.2H343.0V130.3H344.0V124.7H345.0V120.2H346.0V115.8H347.0V114.6H348.0V112.4H349.0V114.6H350.0V118.0H351.0V122.5H352.0V129.2H353.0V137.0H354.0V142.6H355.0V148.2H356.0V151.6H357.0V156.1H358.0V158.3H359.0V158.3H360.0V156.1H361.0V148.2H362.0V148.2H363.0V149.4H364.0V151.6H365.0V159.4H366.0V162.8H367.0V171.8H368.0V181.8H369.0V187.4H370.0V191.9H371.0V195.3H372.0V197.5H373.0V197.5H374.0V198.6H375.0V198.6H376.0V198.6H377.0V199.8H378.0V199.8H379.0V198.6H380.0V198.6H381.0V198.6H382.0V198.6H383.0V198.6H384.0V198.6H385.0V198.6H386.0V197.5H387.0V197.5H388.0V197.5H389.0V197.5H390.0V196.4H391.0V195.3H392.0V196.4H393.0V195.3H394.0V196.4H395.0V195.3H396.0V195.3H397.0V195.3H398.0V195.3H399.0V196.4H400.0V197.5H401.0V197.5H402.0V198.6H403.0V198.6H404.0V198.6H405.0V198.6H406.0V199.8H407.0V198.6H408.0V198.6H409.0V198.6H410.0V199.8H411.0V198.6H412.0V199.8H413.0V199.8H414.0V199.8H415.0V198.6H416.0V199.8H417.0V199.8H418.0V199.8H419.0V199.8H420.0V199.8H421.0V199.8H422.0V199.8H423.0V199.8H424.0V199.8H425.0V199.8H426.0V199.8H427.0V199.8H428.0V199.8H429.0V199.8H430.0V199.8H431.0V199.8H432.0V199.8H433.0V199.8H434.0V199.8H435.0V199.8H436.0V200.9H437.0V200.9H438.0V200.9H439.0V200.9H440.0V200.9H441.0V200.9H442.0V200.9H443.0V200.9H444.0V200.9H445.0V200.9H446.0V200.9H447.0V200.9H448.0V200.9H449.0V200.9H450.0V200.9H451.0V200.9H452.0V200.9H453.0V200.9H454.0V201.9H455.0V200.9H456.0V201.9H457.0V200.9H458.0V200.9H459.0V201.9H460.0V201.9H461.0V201.9H462.0V201.9H463.0V201.9H464.0V201.9H465.0V201.9H466.0V201.9H467.0V201.9H468.0V201.9H469.0V201.9H470.0V201.9H471.0V201.9H472.0V201.9H473.0V201.9H474.0V201.9H475.0V201.9H476.0V201.9H477.0V201.9H478.0V201.9H479.0V201.9H480.0V201.9H481.0V201.9H482.0V201.9H483.0V201.9H484.0V201.9H485.0V201.9H486.0V201.9H487.0V201.9H488.0V201.9H489.0V201.9H490.0V201.9H491.0V201.9H492.0V201.9H493.0V201.9H494.0V201.9H495.0V201.9H496.0V201.9H497.0V201.9H498.0V201.9H499.0V201.9H500.0V201.9H501.0V201.9H502.0V201.9H503.0V201.9H504.0V201.9H505.0V201.9H506.0V201.9H507.0V201.9H508.0V201.9H509.0V201.9H510.0V201.9H511.0V201.9H512.0" fill="none" stroke="#0d0d0d" stroke-width="1.8" stroke-linejoin="round"/>
<rect x="310.4" y="190.0" width="1.1" height="12.0" fill="#b4b4b4"/>
<path d="M309.7 34.0H513.5" fill="none" stroke="#141414" stroke-width="1.7"/>
<path d="M513.0 34.0V202.0" fill="none" stroke="#141414" stroke-width="1.4"/>
<path d="M309.7 33.5V202.6" fill="none" stroke="#141414" stroke-width="1.7"/>
<path d="M309.2 202.0H513.5" fill="none" stroke="#141414" stroke-width="1.6"/>
<path d="M309.7 202.00h-4.6M309.7 196.40h-2.6M309.7 190.80h-2.6M309.7 185.20h-2.6M309.7 179.60h-2.6M309.7 174.00h-2.6M309.7 168.40h-4.6M309.7 162.80h-2.6M309.7 157.20h-2.6M309.7 151.60h-2.6M309.7 146.00h-2.6M309.7 140.40h-2.6M309.7 134.80h-4.6M309.7 129.20h-2.6M309.7 123.60h-2.6M309.7 118.00h-2.6M309.7 112.40h-2.6M309.7 106.80h-2.6M309.7 101.20h-4.6M309.7 95.60h-2.6M309.7 90.00h-2.6M309.7 84.40h-2.6M309.7 78.80h-2.6M309.7 73.20h-2.6M309.7 67.60h-4.6M309.7 62.00h-2.6M309.7 56.40h-2.6M309.7 50.80h-2.6M309.7 45.20h-2.6M309.7 39.60h-2.6M309.7 34.00h-4.6" fill="none" stroke="#141414" stroke-width="1.25"/>
<path d="M309.70 202.0v5.9M325.00 202.0v3.7M333.95 202.0v3.7M340.30 202.0v3.7M345.23 202.0v3.7M349.25 202.0v3.7M352.65 202.0v3.7M355.60 202.0v3.7M358.20 202.0v3.7M360.52 202.0v5.9M375.82 202.0v3.7M384.77 202.0v3.7M391.12 202.0v3.7M396.05 202.0v3.7M400.07 202.0v3.7M403.48 202.0v3.7M406.42 202.0v3.7M409.02 202.0v3.7M411.35 202.0v5.9M426.65 202.0v3.7M435.60 202.0v3.7M441.95 202.0v3.7M446.88 202.0v3.7M450.90 202.0v3.7M454.30 202.0v3.7M457.25 202.0v3.7M459.85 202.0v3.7M462.18 202.0v5.9M477.47 202.0v3.7M486.42 202.0v3.7M492.77 202.0v3.7M497.70 202.0v3.7M501.72 202.0v3.7M505.13 202.0v3.7M508.07 202.0v3.7M510.67 202.0v3.7M513.00 202.0v5.9" fill="none" stroke="#141414" stroke-width="1.3"/>
<text class="ax" transform="translate(301.7 34.0) rotate(-90)" text-anchor="middle" textLength="14.2" lengthAdjust="spacingAndGlyphs">150</text>
<text class="ax" transform="translate(301.7 67.6) rotate(-90)" text-anchor="middle" textLength="14.2" lengthAdjust="spacingAndGlyphs">120</text>
<text class="ax" transform="translate(301.7 101.2) rotate(-90)" text-anchor="middle" textLength="10.0" lengthAdjust="spacingAndGlyphs">90</text>
<text class="ax" transform="translate(301.7 134.8) rotate(-90)" text-anchor="middle" textLength="10.0" lengthAdjust="spacingAndGlyphs">60</text>
<text class="ax" transform="translate(301.7 168.4) rotate(-90)" text-anchor="middle" textLength="10.0" lengthAdjust="spacingAndGlyphs">30</text>
<text class="ax" transform="translate(301.7 202.0) rotate(-90)" text-anchor="middle" textLength="4.8" lengthAdjust="spacingAndGlyphs">0</text>
<text class="ax cn" transform="translate(290.5 120.0) rotate(-90)" text-anchor="middle" textLength="29.5" lengthAdjust="spacingAndGlyphs">Counts</text>
<text class="ax xl" x="302.4" y="218.8" textLength="8.5" lengthAdjust="spacingAndGlyphs">10</text>
<text class="ax sp" x="311.0" y="213.0">0</text>
<text class="ax xl" x="353.2" y="218.8" textLength="8.5" lengthAdjust="spacingAndGlyphs">10</text>
<text class="ax sp" x="361.8" y="213.0">1</text>
<text class="ax xl" x="404.1" y="218.8" textLength="8.5" lengthAdjust="spacingAndGlyphs">10</text>
<text class="ax sp" x="412.7" y="213.0">2</text>
<text class="ax xl" x="454.9" y="218.8" textLength="8.5" lengthAdjust="spacingAndGlyphs">10</text>
<text class="ax sp" x="463.5" y="213.0">3</text>
<text class="ax xl" x="505.7" y="218.8" textLength="8.5" lengthAdjust="spacingAndGlyphs">10</text>
<text class="ax sp" x="514.3" y="213.0">4</text>
<text class="ax xl" x="410.3" y="227.7" text-anchor="middle" textLength="25.0" lengthAdjust="spacingAndGlyphs">FL2-H</text>
<text class="ttl" x="469.8" y="55.0" textLength="37.3" lengthAdjust="spacingAndGlyphs">TLR4</text>
<text class="ltr" x="274.2" y="21.2">C</text>
</g>
<g id="panel-D">
<path d="M308.1 435.4H309.1V434.4H310.0V434.4H311.0V434.4H312.0V434.4H313.0V433.3H314.0V433.3H315.0V433.3H316.0V433.3H317.0V433.3H318.0V433.3H319.0V433.3H320.0V432.1H321.0V433.3H322.0V432.1H323.0V432.1H324.0V432.1H325.0V433.3H326.0V432.1H327.0V432.1H328.0V433.3H329.0V433.3H330.0V433.3H331.0V433.3H332.0V433.3H333.0V433.3H334.0V433.3H335.0V433.3H336.0V433.3H337.0V432.1H338.0V433.3H339.0V432.1H340.0V432.1H341.0V432.1H342.0V432.1H343.0V431.0H344.0V429.9H345.0V428.8H346.0V427.7H347.0V424.3H348.0V419.8H349.0V415.3H350.0V410.9H351.0V405.3H352.0V397.4H353.0V389.6H354.0V378.4H355.0V367.2H356.0V353.7H357.0V339.2H358.0V324.6H359.0V316.8H360.0V308.9H361.0V307.8H362.0V305.6H363.0V304.5H364.0V303.3H365.0V310.1H366.0V315.7H367.0V323.5H368.0V335.8H369.0V353.7H370.0V370.5H371.0V379.5H372.0V389.6H373.0V395.2H374.0V405.3H375.0V413.1H376.0V419.8H377.0V424.3H378.0V426.5H379.0V429.9H380.0V431.0H381.0V431.0H382.0V432.1H383.0V433.3H384.0V433.3H385.0V433.3H386.0V434.4H387.0V434.4H388.0V434.4H389.0V434.4H390.0V434.4H391.0V434.4H392.0V434.4H393.0V434.4H394.0V434.4H395.0V434.4H396.0V435.4H397.0V435.4H398.0V434.4H399.0V435.4H400.0V435.5H308.2Z" fill="#858585" stroke="#858585" stroke-width="0.3"/>
<path d="M308.1 434.4H309.1V435.4H310.0V434.4H311.0V435.4H312.0V435.4H313.0V435.4H314.0V434.4H315.0V434.4H316.0V435.4H317.0V435.4H318.0V435.4H319.0V435.4H320.0V435.4H321.0V435.4H322.0V435.4H323.0V435.4H324.0V434.4H325.0V435.4H326.0V435.4H327.0V434.4H328.0V435.4H329.0V434.4H330.0V434.4H331.0V434.4H332.0V435.4H333.0V434.4H334.0V434.4H335.0V434.4H336.0V434.4H337.0V434.4H338.0V434.4H339.0V434.4H340.0V435.4H341.0V434.4H342.0V434.4H343.0V434.4H344.0V434.4H345.0V434.4H346.0V434.4H347.0V434.4H348.0V434.4H349.0V434.4H350.0V434.4H351.0V434.4H352.0V434.4H353.0V434.4H354.0V434.4H355.0V434.4H356.0V434.4H357.0V433.3H358.0V433.3H359.0V433.3H360.0V432.1H361.0V432.1H362.0V432.1H363.0V431.0H364.0V429.9H365.0V428.8H366.0V427.7H367.0V425.4H368.0V423.2H369.0V419.8H370.0V416.5H371.0V409.7H372.0V401.9H373.0V391.8H374.0V384.0H375.0V372.8H376.0V367.2H377.0V361.6H378.0V354.9H379.0V345.9H380.0V336.9H381.0V333.6H382.0V328.0H383.0V328.0H384.0V326.9H385.0V326.9H386.0V328.0H387.0V332.5H388.0V335.8H389.0V342.5H390.0V352.6H391.0V360.5H392.0V372.8H393.0V380.6H394.0V390.7H395.0V399.7H396.0V410.9H397.0V419.8H398.0V424.3H399.0V426.5H400.0V428.8H401.0V428.8H402.0V429.9H403.0V429.9H404.0V431.0H405.0V431.0H406.0V431.0H407.0V431.0H408.0V431.0H409.0V431.0H410.0V431.0H411.0V431.0H412.0V431.0H413.0V431.0H414.0V431.0H415.0V431.0H416.0V432.1H417.0V432.1H418.0V432.1H419.0V432.1H420.0V432.1H421.0V433.3H422.0V433.3H423.0V433.3H424.0V433.3H425.0V433.3H426.0V434.4H427.0V434.4H428.0V434.4H429.0V434.4H430.0V434.4H431.0V434.4H432.0V434.4H433.0V434.4H434.0V434.4H435.0V434.4H436.0V434.4H437.0V434.4H438.0V434.4H439.0V435.4H440.0V435.4H441.0V435.4H442.0V434.4H443.0V435.4H444.0V434.4H445.0V435.4H446.0V435.4H447.0V435.4H448.0V435.4H449.0V435.4H450.0V435.4H451.0V435.4H452.0V435.4H453.0V435.4H454.0V435.4H455.0V435.4H456.0V435.4H457.0V435.4H458.0V435.4H459.0V435.4H460.0V435.4H461.0V435.4H462.0V435.4H463.0V435.4H464.0V435.4H465.0V435.4H466.0V435.4H467.0V435.4H468.0V435.4H469.0V435.4H470.0V435.4H471.0V435.4H472.0V435.4H473.0V435.4H474.0V435.4H475.0V435.4H476.0V435.4H477.0V435.4H478.0V435.4H479.0V435.4H480.0V435.4H481.0V435.4H482.0V435.4H483.0V435.4H484.0V435.4H485.0V435.4H486.0V435.4H487.0V435.4H488.0V435.4H489.0V435.4H490.0V435.4H491.0V435.4H492.0V435.4H493.0V435.4H494.0V435.4H495.0V435.4H496.0V435.4H497.0V435.4H498.0V435.4H499.0V435.4H500.0V435.4H501.0V435.4H502.0V435.4H503.0V435.4H504.0V435.4H505.0V435.4H506.0V435.4H507.0V435.4H508.0V435.4H509.0V435.4H510.0V435.4H511.0V435.4H512.0V435.4H513.0" fill="none" stroke="#111" stroke-width="1.4" stroke-dasharray="3.6 2.7" stroke-linejoin="round"/>
<path d="M308.0 434.4H309.0V434.4H310.0V435.4H311.0V434.4H312.0V434.4H313.0V434.4H314.0V434.4H315.0V434.4H316.0V434.4H317.0V434.4H318.0V434.4H319.0V434.4H320.0V433.3H321.0V433.3H322.0V432.1H323.0V431.0H324.0V431.0H325.0V431.0H326.0V429.9H327.0V429.9H328.0V431.0H329.0V431.0H330.0V431.0H331.0V431.0H332.0V432.1H333.0V432.1H334.0V432.1H335.0V431.0H336.0V431.0H337.0V432.1H338.0V431.0H339.0V431.0H340.0V431.0H341.0V431.0H342.0V431.0H343.0V431.0H344.0V431.0H345.0V431.0H346.0V431.0H347.0V431.0H348.0V431.0H349.0V431.0H350.0V431.0H351.0V431.0H352.0V431.0H353.0V428.8H354.0V427.7H355.0V426.5H356.0V424.3H357.0V423.2H358.0V420.9H359.0V419.8H360.0V417.6H361.0V415.3H362.0V409.7H363.0V404.1H364.0V396.3H365.0V390.7H366.0V380.6H367.0V369.4H368.0V356.0H369.0V348.1H370.0V339.2H371.0V332.5H372.0V326.9H373.0V324.6H374.0V323.5H375.0V323.5H376.0V322.4H377.0V330.2H378.0V336.9H379.0V343.7H380.0V358.2H381.0V364.9H382.0V370.5H383.0V379.5H384.0V389.6H385.0V395.2H386.0V404.1H387.0V412.0H388.0V419.8H389.0V426.5H390.0V428.8H391.0V429.9H392.0V429.9H393.0V429.9H394.0V431.0H395.0V429.9H396.0V429.9H397.0V429.9H398.0V431.0H399.0V429.9H400.0V429.9H401.0V429.9H402.0V429.9H403.0V431.0H404.0V431.0H405.0V432.1H406.0V433.3H407.0V433.3H408.0V433.3H409.0V433.3H410.0V434.4H411.0V434.4H412.0V434.4H413.0V434.4H414.0V434.4H415.0V434.4H416.0V434.4H417.0V434.4H418.0V434.4H419.0V435.4H420.0V434.4H421.0V434.4H422.0V435.4H423.0V435.4H424.0V434.4H425.0V435.4H426.0V435.4H427.0V435.4H428.0V435.4H429.0V435.4H430.0V435.4H431.0V435.4H432.0V435.4H433.0V435.4H434.0V435.4H435.0V435.4H436.0V435.4H437.0V435.4H438.0V435.4H439.0V435.4H440.0V435.4H441.0V435.4H442.0V435.4H443.0V435.4H444.0V435.4H445.0V435.4H446.0V435.4H447.0V435.4H448.0V435.4H449.0V435.4H450.0V435.4H451.0V435.4H452.0V435.4H453.0V435.4H454.0V435.4H455.0V435.4H456.0V435.4H457.0V435.4H458.0V435.4H459.0V435.4H460.0V435.4H461.0V435.4H462.0V435.4H463.0V435.4H464.0V435.4H465.0V435.4H466.0V435.4H467.0V435.4H468.0V435.4H469.0V435.4H470.0V435.4H471.0V435.4H472.0V435.4H473.0V435.4H474.0V435.4H475.0V435.4H476.0V435.4H477.0V435.4H478.0V435.4H479.0V435.4H480.0V435.4H481.0V435.4H482.0V435.4H483.0V435.4H484.0V435.4H485.0V435.4H486.0V435.4H487.0V435.4H488.0V435.4H489.0V435.4H490.0V435.4H491.0V435.4H492.0V435.4H493.0V435.4H494.0V435.4H495.0V435.4H496.0V435.4H497.0V435.4H498.0V435.4H499.0V435.4H500.0V435.4H501.0V435.4H502.0V435.4H503.0V435.4H504.0V435.4H505.0V435.4H506.0V435.4H507.0V435.4H508.0V435.4H509.0V435.4H510.0V435.4H511.0V435.4H512.0V435.4H513.0" fill="none" stroke="#fff" stroke-opacity="0.55" stroke-width="3.6" stroke-linejoin="round"/>
<path d="M308.0 434.4H309.0V434.4H310.0V435.4H311.0V434.4H312.0V434.4H313.0V434.4H314.0V434.4H315.0V434.4H316.0V434.4H317.0V434.4H318.0V434.4H319.0V434.4H320.0V433.3H321.0V433.3H322.0V432.1H323.0V431.0H324.0V431.0H325.0V431.0H326.0V429.9H327.0V429.9H328.0V431.0H329.0V431.0H330.0V431.0H331.0V431.0H332.0V432.1H333.0V432.1H334.0V432.1H335.0V431.0H336.0V431.0H337.0V432.1H338.0V431.0H339.0V431.0H340.0V431.0H341.0V431.0H342.0V431.0H343.0V431.0H344.0V431.0H345.0V431.0H346.0V431.0H347.0V431.0H348.0V431.0H349.0V431.0H350.0V431.0H351.0V431.0H352.0V431.0H353.0V428.8H354.0V427.7H355.0V426.5H356.0V424.3H357.0V423.2H358.0V420.9H359.0V419.8H360.0V417.6H361.0V415.3H362.0V409.7H363.0V404.1H364.0V396.3H365.0V390.7H366.0V380.6H367.0V369.4H368.0V356.0H369.0V348.1H370.0V339.2H371.0V332.5H372.0V326.9H373.0V324.6H374.0V323.5H375.0V323.5H376.0V322.4H377.0V330.2H378.0V336.9H379.0V343.7H380.0V358.2H381.0V364.9H382.0V370.5H383.0V379.5H384.0V389.6H385.0V395.2H386.0V404.1H387.0V412.0H388.0V419.8H389.0V426.5H390.0V428.8H391.0V429.9H392.0V429.9H393.0V429.9H394.0V431.0H395.0V429.9H396.0V429.9H397.0V429.9H398.0V431.0H399.0V429.9H400.0V429.9H401.0V429.9H402.0V429.9H403.0V431.0H404.0V431.0H405.0V432.1H406.0V433.3H407.0V433.3H408.0V433.3H409.0V433.3H410.0V434.4H411.0V434.4H412.0V434.4H413.0V434.4H414.0V434.4H415.0V434.4H416.0V434.4H417.0V434.4H418.0V434.4H419.0V435.4H420.0V434.4H421.0V434.4H422.0V435.4H423.0V435.4H424.0V434.4H425.0V435.4H426.0V435.4H427.0V435.4H428.0V435.4H429.0V435.4H430.0V435.4H431.0V435.4H432.0V435.4H433.0V435.4H434.0V435.4H435.0V435.4H436.0V435.4H437.0V435.4H438.0V435.4H439.0V435.4H440.0V435.4H441.0V435.4H442.0V435.4H443.0V435.4H444.0V435.4H445.0V435.4H446.0V435.4H447.0V435.4H448.0V435.4H449.0V435.4H450.0V435.4H451.0V435.4H452.0V435.4H453.0V435.4H454.0V435.4H455.0V435.4H456.0V435.4H457.0V435.4H458.0V435.4H459.0V435.4H460.0V435.4H461.0V435.4H462.0V435.4H463.0V435.4H464.0V435.4H465.0V435.4H466.0V435.4H467.0V435.4H468.0V435.4H469.0V435.4H470.0V435.4H471.0V435.4H472.0V435.4H473.0V435.4H474.0V435.4H475.0V435.4H476.0V435.4H477.0V435.4H478.0V435.4H479.0V435.4H480.0V435.4H481.0V435.4H482.0V435.4H483.0V435.4H484.0V435.4H485.0V435.4H486.0V435.4H487.0V435.4H488.0V435.4H489.0V435.4H490.0V435.4H491.0V435.4H492.0V435.4H493.0V435.4H494.0V435.4H495.0V435.4H496.0V435.4H497.0V435.4H498.0V435.4H499.0V435.4H500.0V435.4H501.0V435.4H502.0V435.4H503.0V435.4H504.0V435.4H505.0V435.4H506.0V435.4H507.0V435.4H508.0V435.4H509.0V435.4H510.0V435.4H511.0V435.4H512.0V435.4H513.0" fill="none" stroke="#0d0d0d" stroke-width="1.8" stroke-linejoin="round"/>
<path d="M308.6 267.5H513.7" fill="none" stroke="#141414" stroke-width="1.7"/>
<path d="M513.2 267.5V435.5" fill="none" stroke="#141414" stroke-width="1.4"/>
<path d="M308.6 267.0V436.1" fill="none" stroke="#141414" stroke-width="1.7"/>
<path d="M308.1 435.5H513.7" fill="none" stroke="#141414" stroke-width="1.6"/>
<path d="M308.6 435.50h-4.6M308.6 429.90h-2.6M308.6 424.30h-2.6M308.6 418.70h-2.6M308.6 413.10h-2.6M308.6 407.50h-2.6M308.6 401.90h-4.6M308.6 396.30h-2.6M308.6 390.70h-2.6M308.6 385.10h-2.6M308.6 379.50h-2.6M308.6 373.90h-2.6M308.6 368.30h-4.6M308.6 362.70h-2.6M308.6 357.10h-2.6M308.6 351.50h-2.6M308.6 345.90h-2.6M308.6 340.30h-2.6M308.6 334.70h-4.6M308.6 329.10h-2.6M308.6 323.50h-2.6M308.6 317.90h-2.6M308.6 312.30h-2.6M308.6 306.70h-2.6M308.6 301.10h-4.6M308.6 295.50h-2.6M308.6 289.90h-2.6M308.6 284.30h-2.6M308.6 278.70h-2.6M308.6 273.10h-2.6M308.6 267.50h-4.6" fill="none" stroke="#141414" stroke-width="1.25"/>
<path d="M308.60 435.5v5.9M324.00 435.5v3.7M333.00 435.5v3.7M339.40 435.5v3.7M344.35 435.5v3.7M348.40 435.5v3.7M351.83 435.5v3.7M354.79 435.5v3.7M357.41 435.5v3.7M359.75 435.5v5.9M375.15 435.5v3.7M384.15 435.5v3.7M390.55 435.5v3.7M395.50 435.5v3.7M399.55 435.5v3.7M402.98 435.5v3.7M405.94 435.5v3.7M408.56 435.5v3.7M410.90 435.5v5.9M426.30 435.5v3.7M435.30 435.5v3.7M441.70 435.5v3.7M446.65 435.5v3.7M450.70 435.5v3.7M454.13 435.5v3.7M457.09 435.5v3.7M459.71 435.5v3.7M462.05 435.5v5.9M477.45 435.5v3.7M486.45 435.5v3.7M492.85 435.5v3.7M497.80 435.5v3.7M501.85 435.5v3.7M505.28 435.5v3.7M508.24 435.5v3.7M510.86 435.5v3.7M513.20 435.5v5.9" fill="none" stroke="#141414" stroke-width="1.3"/>
<text class="ax" transform="translate(300.6 267.5) rotate(-90)" text-anchor="middle" textLength="14.2" lengthAdjust="spacingAndGlyphs">150</text>
<text class="ax" transform="translate(300.6 301.1) rotate(-90)" text-anchor="middle" textLength="14.2" lengthAdjust="spacingAndGlyphs">120</text>
<text class="ax" transform="translate(300.6 334.7) rotate(-90)" text-anchor="middle" textLength="10.0" lengthAdjust="spacingAndGlyphs">90</text>
<text class="ax" transform="translate(300.6 368.3) rotate(-90)" text-anchor="middle" textLength="10.0" lengthAdjust="spacingAndGlyphs">60</text>
<text class="ax" transform="translate(300.6 401.9) rotate(-90)" text-anchor="middle" textLength="10.0" lengthAdjust="spacingAndGlyphs">30</text>
<text class="ax" transform="translate(300.6 435.5) rotate(-90)" text-anchor="middle" textLength="4.8" lengthAdjust="spacingAndGlyphs">0</text>
<text class="ax cn" transform="translate(289.4 353.5) rotate(-90)" text-anchor="middle" textLength="29.5" lengthAdjust="spacingAndGlyphs">Counts</text>
<text class="ax xl" x="301.3" y="452.3" textLength="8.5" lengthAdjust="spacingAndGlyphs">10</text>
<text class="ax sp" x="309.9" y="446.5">0</text>
<text class="ax xl" x="352.4" y="452.3" textLength="8.5" lengthAdjust="spacingAndGlyphs">10</text>
<text class="ax sp" x="361.1" y="446.5">1</text>
<text class="ax xl" x="403.6" y="452.3" textLength="8.5" lengthAdjust="spacingAndGlyphs">10</text>
<text class="ax sp" x="412.2" y="446.5">2</text>
<text class="ax xl" x="454.8" y="452.3" textLength="8.5" lengthAdjust="spacingAndGlyphs">10</text>
<text class="ax sp" x="463.4" y="446.5">3</text>
<text class="ax xl" x="505.9" y="452.3" textLength="8.5" lengthAdjust="spacingAndGlyphs">10</text>
<text class="ax sp" x="514.5" y="446.5">4</text>
<text class="ax xl" x="409.2" y="461.2" text-anchor="middle" textLength="25.0" lengthAdjust="spacingAndGlyphs">FL2-H</text>
<text class="ttl" x="469.8" y="286.9" textLength="36.4" lengthAdjust="spacingAndGlyphs">TLR9</text>
<text class="ltr" x="272.4" y="256.0">D</text>
</g>
<text class="ann" x="321.2" y="288.2" textLength="43.3" lengthAdjust="spacingAndGlyphs">isotype</text>
<text class="ann" x="393.5" y="304.3" textLength="59.7" lengthAdjust="spacingAndGlyphs">untreated</text>
<text class="ann" x="423.0" y="347.6" textLength="45.9" lengthAdjust="spacingAndGlyphs">GM-CSF</text>
<text class="ann" x="423.0" y="363.8" textLength="43.0" lengthAdjust="spacingAndGlyphs">treated</text>
<path d="M344.3 300L358.8 314.7M391.3 307.5L376.6 320.4M416.3 348.7L394 355.4" fill="none" stroke="#111" stroke-width="1.6"/>
</svg>
</body>
</html>
